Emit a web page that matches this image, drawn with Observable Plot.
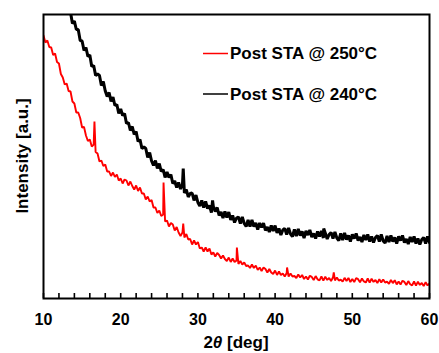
<!DOCTYPE html>
<html><head><meta charset="utf-8">
<script src="https://cdn.jsdelivr.net/npm/d3@7"></script>
<script src="https://cdn.jsdelivr.net/npm/@observablehq/plot@0.6"></script>
<style>
html,body{margin:0;padding:0;background:#fff;}
#chart svg{display:block;}
</style></head><body><div id="chart"></div>
<script>
// ---- data (2θ in degrees, intensity in arbitrary units) ----
const angleStep = 0.25;
const black240Start = 12.5;
const red250Start = 10;

// Post STA @ 240°C (black), 12.5° … 60° every 0.25°
const black240 = [
  304, 294, 297, 286, 286, 275, 277.5, 269,
  269, 258, 257.5, 248, 251, 242, 243.5, 232,
  233, 223, 224.5, 223, 213, 217, 207.5, 202,
  206, 197, 201.5, 193, 194, 185, 189.5, 183,
  185, 175, 176, 168, 172, 164, 167, 157,
  159, 150, 151.5, 150, 141, 146, 137.5, 133,
  138, 130, 135, 127, 129, 121, 126.5, 121,
  124, 115, 117.5, 111, 116, 109.5, 114, 105.5,
  109, 101.5, 105, 105.5, 98, 103.5, 96, 92.5,
  98, 91, 97, 90, 93, 86, 92, 87,
  91, 83, 86.5, 80.5, 87, 81, 86.5, 78.5,
  83, 76, 80.5, 81.5, 75, 81.5, 75, 72,
  78.5, 72, 78.5, 72, 75.5, 69, 75.5, 71,
  75.5, 68, 71.5, 66.5, 73, 67.5, 73, 65.5,
  70, 63.5, 68.5, 70, 64, 70.5, 64.5, 62,
  69, 62.5, 69.5, 63, 67, 60.5, 67.5, 63.5,
  68.5, 61.5, 65, 60, 67, 62, 67.5, 60.5,
  65.5, 59.5, 64, 66, 60, 66.5, 60.5, 58,
  65, 58.5, 65.5, 59, 63, 57, 64, 60,
  65, 58, 61.5, 56.5, 63.5, 58.5, 64, 57,
  62, 56, 61, 63, 57, 64, 57.5, 55.5,
  62.5, 56.5, 63, 57, 61, 55, 62, 58,
  63, 56, 59.5, 54.5, 61.5, 56.5, 62, 55,
  60, 54, 59, 61, 55, 62, 56
];
// Post STA @ 250°C (red), 10° … 60° every 0.25°
const red250 = [
  263, 256, 258, 251.5, 251, 243.5, 245, 236.5,
  235, 224.5, 221, 214, 215, 207.5, 207, 197,
  195, 186, 186, 180.5, 171, 171.5, 163, 157.5,
  159, 152, 154, 146.5, 145, 137, 138, 132.5,
  134, 127, 127, 122.5, 126, 121.5, 124, 118,
  120, 115, 119, 118, 113, 117, 112.5, 109,
  113, 107.5, 111, 105, 105, 99, 102, 97,
  98.5, 91, 91, 85.5, 88, 82.5, 84, 77,
  78, 72, 75.5, 74, 68, 71.5, 66, 62.5,
  66, 61, 64.5, 59, 59.5, 54, 58, 54,
  56.5, 50, 51, 47, 51, 47, 50, 44,
  46, 42, 45.5, 43.5, 40, 43, 39.5, 37.5,
  41, 36.5, 40, 36.5, 38, 34.5, 37.5, 34,
  36, 32.5, 33, 30.5, 34, 30.5, 33, 28.5,
  31, 27.5, 31, 29.5, 26, 29.5, 26, 24.5,
  28, 23.5, 27, 23.5, 25, 22, 25.5, 22,
  25, 22, 22.5, 20.5, 24, 21, 23.5, 19.5,
  22, 19, 22.7, 21.6, 18.5, 22.4, 19.2, 18.1,
  22, 17.9, 21.7, 18.6, 20.5, 17.4, 21.2, 18.1,
  21, 17.9, 18.9, 16.8, 20.7, 17.6, 20.6, 16.5,
  19.5, 16.4, 20.4, 19.3, 16.2, 20.1, 17.1, 16,
  20, 15.9, 19.8, 16.6, 18.5, 15.4, 19.3, 16.1,
  19, 15.9, 16.8, 14.6, 18.5, 15.4, 18.3, 14.1,
  17, 13.9, 17.8, 16.6, 13.5, 17.4, 14.3, 13.1,
  17, 12.9, 16.8, 13.6, 15.5, 12.4, 16.3, 13.1,
  15
];
// sharp reflections [2θ, intensity]
const black240Peaks = [[28.1, 130], [31.9, 98], [46.3, 70]];
const red250Peaks = [[16.6, 177], [25.55, 116], [28.1, 75], [35.05, 51], [41.55, 31], [47.6, 26]];

const xMajorTicks = [10, 20, 30, 40, 50, 60];
const xMinorTicks = [10, 12, 14, 16, 18, 20, 22, 24, 26, 28, 30, 32, 34, 36, 38, 40, 42, 44, 46, 48, 50, 52, 54, 56, 58, 60];
const seriesNames = ["Post STA @ 250°C", "Post STA @ 240°C"];
const seriesColors = ["#ff0000", "#000000"];
const yTitle = "Intensity [a.u.]";

// ---- build tables ----
function buildSeries(start, values, peaks) {
  const pts = values.map((v, i) => ({angle: +(start + i * angleStep).toFixed(3), intensity: v}));
  for (const [a, v] of peaks) pts.push({angle: a, intensity: v});
  pts.sort((p, q) => p.angle - q.angle);
  return pts;
}
const redData = buildSeries(red250Start, red250, red250Peaks);
const blackData = buildSeries(black240Start, black240, black240Peaks);

const FONT = 'Arial, "Liberation Sans", sans-serif';

const chart = Plot.plot({
  width: 439,
  height: 353,
  marginLeft: 43,
  marginRight: 10,
  marginTop: 14,
  marginBottom: 55,
  style: {fontFamily: FONT, background: "white", color: "black"},
  x: {domain: [10, 60], label: null},
  y: {domain: [0, 284], axis: null, label: null},
  marks: [
    Plot.line(redData, {x: "angle", y: "intensity", stroke: seriesColors[0], strokeWidth: 1.9, strokeLinejoin: "miter", clip: true}),
    Plot.line(blackData, {x: "angle", y: "intensity", stroke: seriesColors[1], strokeWidth: 3, strokeLinejoin: "miter", clip: true}),
    Plot.axisX({ticks: xMinorTicks, tickSize: 5, dy: -5, tickFormat: () => "", label: null, strokeWidth: 1.6}),
    Plot.axisX({ticks: xMajorTicks, tickSize: 0, tickPadding: 15, label: null, fontSize: 16, fontWeight: "bold"}),
    Plot.frame({stroke: "black", strokeWidth: 2})
  ]
});
document.getElementById("chart").appendChild(chart);

// ---- titles and legend ----
const svg = d3.select(chart);
const cx = (43 + 429) / 2, cy = (14 + 298) / 2;
svg.append("text")
  .attr("transform", `translate(22,${cy}) rotate(-90)`)
  .attr("text-anchor", "middle").attr("dy", "0.35em")
  .style("font-family", FONT).style("font-size", "17px").style("font-weight", "bold")
  .attr("fill", "black").text(yTitle);
const xt = svg.append("text")
  .attr("x", cx).attr("y", 348).attr("text-anchor", "middle")
  .style("font-family", FONT).style("font-size", "17px").style("font-weight", "bold")
  .attr("fill", "black");
xt.append("tspan").text("2");
xt.append("tspan").style("font-style", "italic").text("θ");
xt.append("tspan").text(" [deg]");

const legendY = [53.5, 94];
seriesNames.forEach((name, i) => {
  svg.append("line").attr("x1", 203).attr("x2", 228).attr("y1", legendY[i]).attr("y2", legendY[i])
    .attr("stroke", seriesColors[i]).attr("stroke-width", 1.5);
  svg.append("text").attr("x", 230).attr("y", legendY[i]).attr("dy", "0.35em")
    .attr("text-anchor", "start")
    .style("font-family", FONT).style("font-size", "17px").style("font-weight", "bold")
    .attr("fill", "black").text(name);
});
</script>
</body></html>
